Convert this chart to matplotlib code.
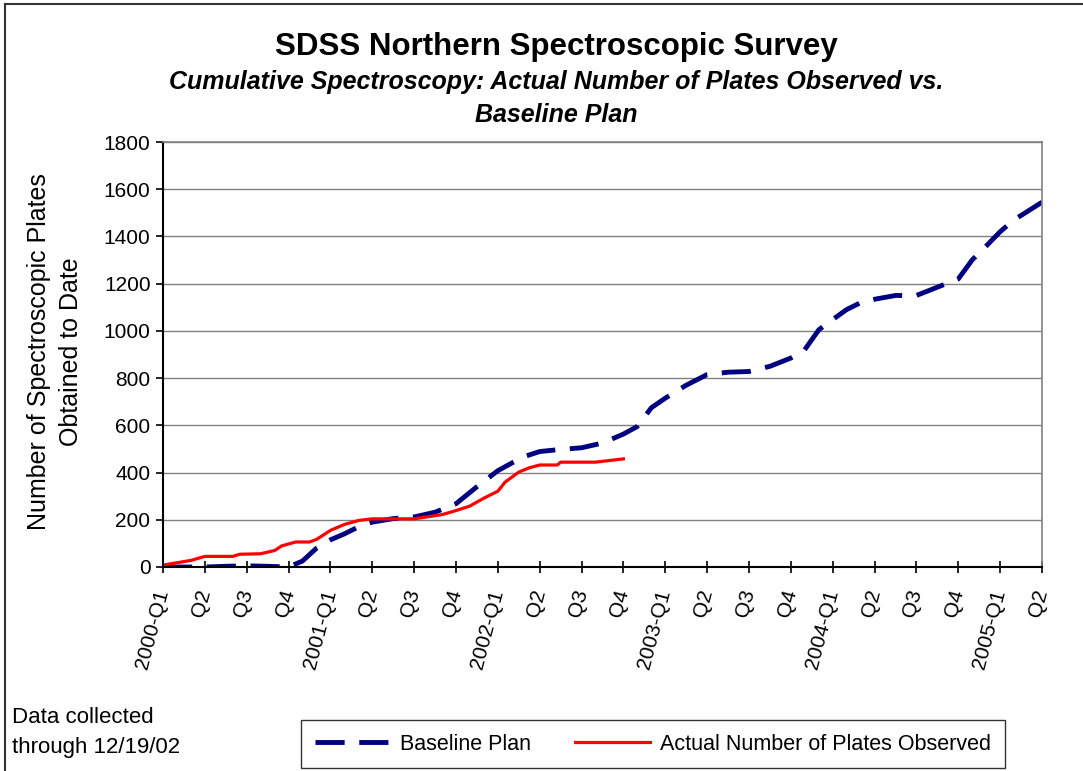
# SDSS northern spectroscopic survey: baseline plan vs actual plates
import matplotlib
matplotlib.use("Agg")
import matplotlib.pyplot as plt
from matplotlib.lines import Line2D

# x axis categories (one tick per quarter)
quarter_labels = ["2000-Q1", "Q2", "Q3", "Q4",
                  "2001-Q1", "Q2", "Q3", "Q4",
                  "2002-Q1", "Q2", "Q3", "Q4",
                  "2003-Q1", "Q2", "Q3", "Q4",
                  "2004-Q1", "Q2", "Q3", "Q4",
                  "2005-Q1", "Q2"]

# baseline plan (time in quarters since 2000-Q1, cumulative plates)
baseline_t = [0, 0.5, 1, 1.5, 2, 2.5, 3, 3.33, 3.67, 4, 4.33, 4.67, 5, 5.5, 6,
              6.5, 7, 7.5, 8, 8.33, 8.67, 9, 9.5, 10, 10.5, 11, 11.33, 11.67,
              12, 12.5, 13, 13.5, 14, 14.5, 15, 15.33, 15.67, 16, 16.33, 16.67,
              17, 17.5, 18, 18.5, 19, 19.33, 19.67, 20, 20.33, 20.67, 21]
baseline_plates = [0, 0, 0, 3, 5, 3, 0, 25, 80, 115, 140, 170, 190, 205, 212,
                   232, 268, 340, 408, 440, 470, 489, 498, 505, 525, 563, 595, 675,
                   715, 770, 815, 825, 828, 850, 885, 920, 1005, 1048, 1090, 1120,
                   1134, 1150, 1150, 1185, 1220, 1300, 1360, 1420, 1470, 1508, 1545]

# actual plates observed
actual_t = [0, 0.67, 1, 1.67, 1.83, 2.33, 2.67, 2.83, 3.17, 3.5, 3.67, 4, 4.33,
            4.67, 5, 6, 6.67, 7, 7.33, 7.67, 8, 8.17, 8.5, 8.75, 9, 9.42, 9.5,
            10.33, 11]
actual_plates = [8, 28, 45, 45, 54, 56, 70, 89, 106, 106, 117, 155, 180,
                 197, 204, 204, 222, 239, 258, 292, 321, 359, 402, 420, 432, 432, 444,
                 444, 458]

plt.rcParams['font.family'] = ['Liberation Sans', 'DejaVu Sans']

W, H = 1083, 771
fig = plt.figure(figsize=(W / 100, H / 100), dpi=100)

# plot area in pixel coords -> figure fractions
left, right, top, bottom = 163, 1042, 142, 567
ax = fig.add_axes([left / W, 1 - bottom / H, (right - left) / W, (bottom - top) / H])

ax.plot(baseline_t, baseline_plates, color='#000080', lw=3.5,
        dashes=(6, 3), label='Baseline Plan', solid_capstyle='butt')
ax.plot(actual_t, actual_plates, color='#ff0000', lw=2.3,
        label='Actual Number of Plates Observed')

ax.set_xlim(0, 21)
ax.set_ylim(0, 1800)
ax.set_yticks(range(0, 1801, 200))
ax.set_xticks(range(len(quarter_labels)))
ax.set_xticklabels(quarter_labels, rotation=75, ha='right', va='center',
                   rotation_mode='anchor')
ax.tick_params(axis='x', direction='inout', length=9, width=1.2, pad=12,
               labelsize=15)
ax.tick_params(axis='y', direction='out', length=5, width=1.2, pad=4,
               labelsize=15)
ax.yaxis.grid(True, color='#808080', lw=1)
ax.set_axisbelow(True)

for s in ['left', 'bottom']:
    ax.spines[s].set_color('black')
    ax.spines[s].set_linewidth(1.5)
for s in ['top', 'right']:
    ax.spines[s].set_color('#808080')
    ax.spines[s].set_linewidth(1.2)

# y axis title, placed as figure text so both lines sit where they should
fig.text(55 / W, 1 - 352 / H, "Number of Spectroscopic Plates\nObtained to Date",
         rotation=90, ha='center', va='center', fontsize=18, linespacing=1.38,
         multialignment='center')

# titles
cx = 556 / W
fig.text(cx, 1 - 55 / H, "SDSS Northern Spectroscopic Survey", ha='center',
         va='baseline', fontsize=22.5, fontweight='bold')
fig.text(cx, 1 - 89 / H,
         "Cumulative Spectroscopy: Actual Number of Plates Observed vs.",
         ha='center', va='baseline', fontsize=18, fontweight='bold', style='italic')
fig.text(cx, 1 - 122 / H, "Baseline Plan", ha='center', va='baseline',
         fontsize=18, fontweight='bold', style='italic')

# note at bottom left
fig.text(12 / W, 1 - 723 / H, "Data collected", fontsize=16, va='baseline')
fig.text(12 / W, 1 - 753 / H, "through 12/19/02", fontsize=16, va='baseline')

# legend
leg = fig.legend(loc='center', bbox_to_anchor=(653 / W, 1 - 744 / H), ncol=2,
                 fontsize=15.5, frameon=True, fancybox=False, handlelength=3.5,
                 columnspacing=2.0, handletextpad=0.45, borderpad=0.65,
                 borderaxespad=0)
leg.get_frame().set_edgecolor('black')
leg.get_frame().set_linewidth(1.0)

# outer chart border (left and top edges visible)
fig.add_artist(Line2D([5 / W, 5 / W], [0, 1 - 4 / H], transform=fig.transFigure,
                      color='#333333', lw=1.5))
fig.add_artist(Line2D([5 / W, 1], [1 - 4 / H, 1 - 4 / H], transform=fig.transFigure,
                      color='#333333', lw=1.5))

fig.savefig("out.png", dpi=100)
